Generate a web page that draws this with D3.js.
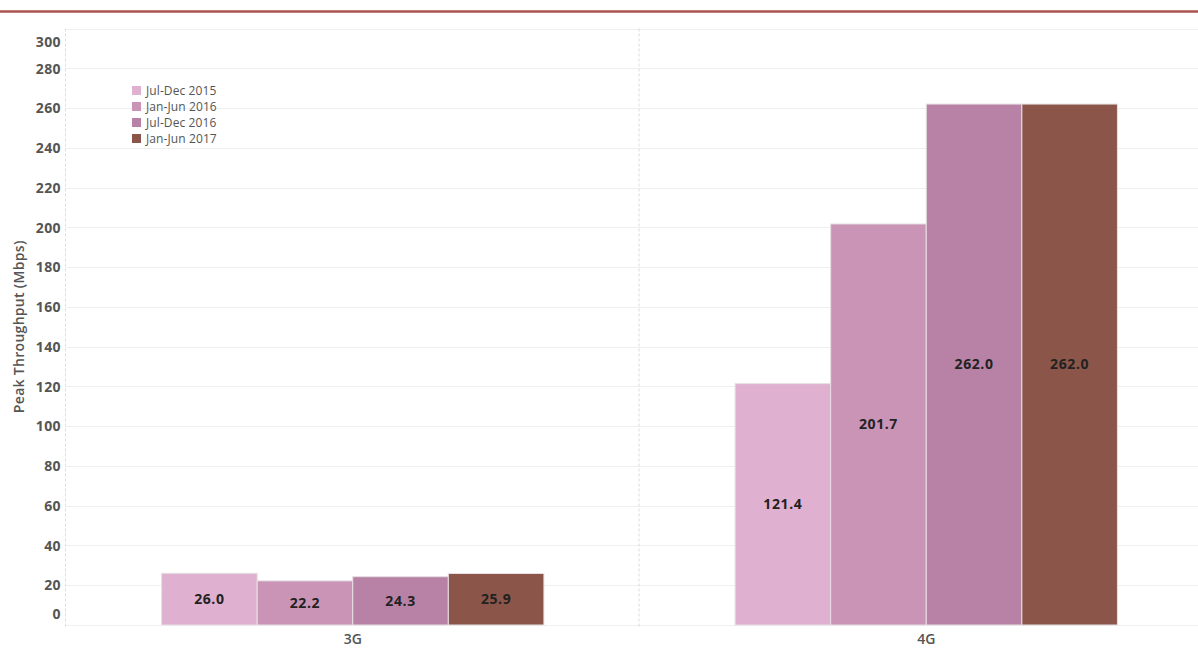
<!DOCTYPE html>
<html><head><meta charset="utf-8">
<script src="https://cdn.jsdelivr.net/npm/d3@7"></script>
<style>
html,body{margin:0;padding:0;background:#fff;overflow:hidden}
svg{display:block}
text{font-family:"Open Sans","Lato",sans-serif}
</style></head>
<body><svg id="c" width="1198" height="648"></svg>
<script>
const categories = ["3G", "4G"];
const series = ["Jul-Dec 2015", "Jan-Jun 2016", "Jul-Dec 2016", "Jan-Jun 2017"];
const values3G = [26.0, 22.2, 24.3, 25.9];
const values4G = [121.4, 201.7, 262.0, 262.0];
const colors = ["#dfb0d0", "#c994b6", "#b882a6", "#8b5649"];
const yTicks = [0,20,40,60,80,100,120,140,160,180,200,220,240,260,280,300];

const data = categories.map((c, i) => ({cat: c, vals: (i === 0 ? values3G : values4G)}));

const svg = d3.select("#c");
const plotLeft = 66, panelW = 573.5, plotTop = 28.5, plotBottom = 625;

// top rule
svg.append("line").attr("x1",0).attr("x2",1198).attr("y1",11.5).attr("y2",11.5)
  .attr("stroke","#a8544e").attr("stroke-width",2.5);

const x0 = d3.scaleBand().domain(categories).range([plotLeft, plotLeft + panelW*2]).padding(0);
const x1 = d3.scaleBand().domain(series).range([panelW/6, panelW*5/6]).padding(0);
const y = d3.scaleLinear().domain([0,300]).range([plotBottom, plotTop]);

// gridlines
svg.append("g").selectAll("line").data(yTicks).join("line")
  .attr("x1", plotLeft).attr("x2", 1198)
  .attr("y1", d => Math.round(y(d))+0.5).attr("y2", d => Math.round(y(d))+0.5)
  .attr("stroke", "#efefef").attr("stroke-width", 1);

// dashed separators
svg.append("line").attr("x1", plotLeft-0.5).attr("x2", plotLeft-0.5).attr("y1", plotTop).attr("y2", plotBottom+2)
  .attr("stroke","#e8d8e0").attr("stroke-dasharray","3,2");
svg.append("line").attr("x1", x0("4G")-0.5).attr("x2", x0("4G")-0.5).attr("y1", plotTop).attr("y2", plotBottom+2)
  .attr("stroke","#dcdcdc").attr("stroke-dasharray","3,2");

// y axis
const yAxis = svg.append("g").attr("transform", `translate(${plotLeft-4},0)`)
  .call(d3.axisLeft(y).tickValues(yTicks).tickSize(0).tickPadding(1));
yAxis.select(".domain").remove();
yAxis.selectAll("text").attr("fill","#555").style("font-size","14px").style("font-weight","bold")
  .style("letter-spacing","0.4px")
  .attr("dy", d => d === 0 ? "-0.43em" : d === 300 ? "1.25em" : "0.34em");

svg.append("text").attr("transform", `translate(24,${(plotTop+plotBottom)/2}) rotate(-90)`)
  .attr("text-anchor","middle").attr("fill","#555").style("font-size","14px").style("font-weight","600")
  .style("letter-spacing","0.3px")
  .text("Peak Throughput (Mbps)");

// x labels
svg.append("g").selectAll("text").data(categories).join("text")
  .attr("x", d => x0(d) + panelW/2).attr("y", 644)
  .attr("text-anchor","middle").attr("fill","#555").style("font-size","14px").style("font-weight","600")
  .text(d => d);

// bars
const groups = svg.append("g").selectAll("g").data(data).join("g")
  .attr("transform", d => `translate(${x0(d.cat)},0)`);
groups.selectAll("rect").data(d => d.vals.map((v,i) => ({s: series[i], v, i}))).join("rect")
  .attr("x", d => x1(d.s)).attr("width", x1.bandwidth())
  .attr("y", d => y(d.v)).attr("height", d => y(0) - y(d.v))
  .attr("fill", d => colors[d.i]).attr("stroke","#e6e0e3").attr("stroke-width",1);
groups.selectAll("text").data(d => d.vals.map((v,i) => ({s: series[i], v, i}))).join("text")
  .attr("x", d => x1(d.s) + x1.bandwidth()/2).attr("y", d => (y(d.v)+y(0))/2)
  .attr("dy","0.35em").attr("text-anchor","middle").attr("fill","#222")
  .style("font-size","14px").style("font-weight","bold").style("letter-spacing","0.6px")
  .text(d => d.v.toFixed(1));

// legend
const lg = svg.append("g").attr("transform","translate(132,86)");
const li = lg.selectAll("g").data(series).join("g").attr("transform",(d,i)=>`translate(0,${i*16})`);
li.append("rect").attr("width",9).attr("height",9).attr("fill",(d,i)=>colors[i]);
li.append("text").attr("x",14).attr("y",4.5).attr("dy","0.35em").attr("fill","#555")
  .style("font-size","12px").style("letter-spacing","0.1px").text(d=>d);
</script></body></html>
